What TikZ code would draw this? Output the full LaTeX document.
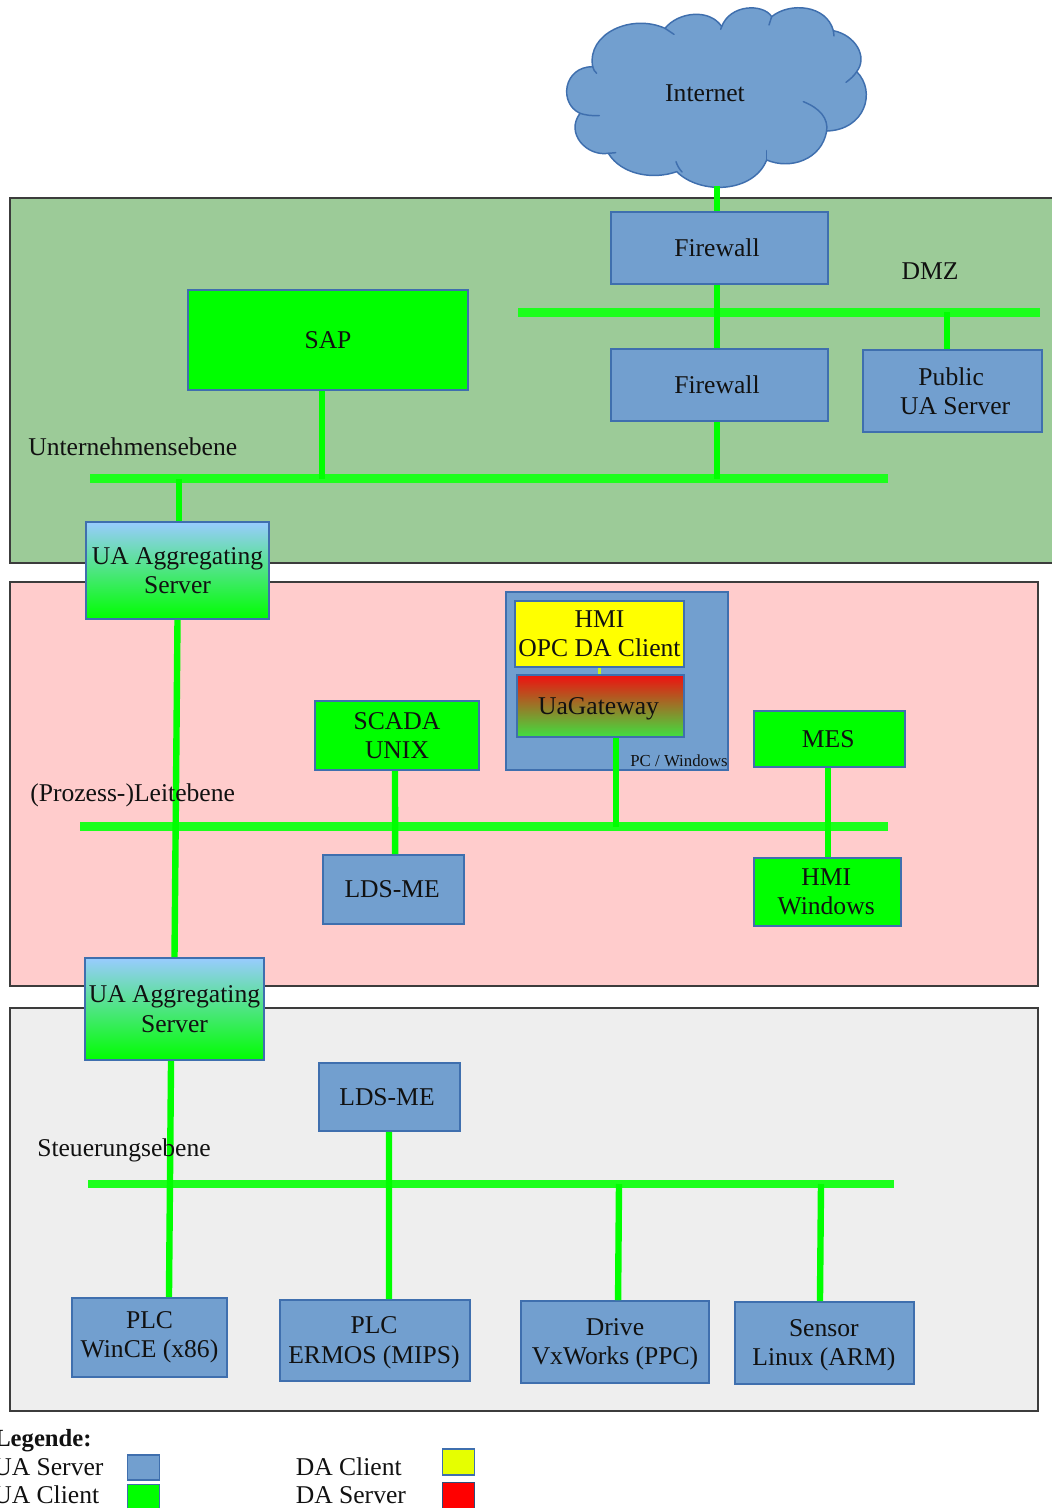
\documentclass[tikz,border=0pt]{standalone}
\usepackage{fontspec}
\setmainfont{Liberation Serif}
\usetikzlibrary{calc}
\definecolor{uablue}{HTML}{729FCF}
\definecolor{edgeblue}{HTML}{3F6FAE}
\definecolor{bandgreen}{HTML}{9CCB98}
\definecolor{bandpink}{HTML}{FFCCCC}
\definecolor{bandgrey}{HTML}{EEEEEE}
\definecolor{bandedge}{HTML}{3C3C3C}
\definecolor{bus}{HTML}{00FF00}
\definecolor{busline}{HTML}{1CFF1C}
\definecolor{inkdark}{HTML}{111111}
\definecolor{aggtop}{HTML}{99CCFF}
\definecolor{gatetop}{HTML}{F01010}
\definecolor{gatebottom}{HTML}{40E040}
\definecolor{swyellow}{HTML}{E6FF00}
\definecolor{hmiyellow}{HTML}{FFFF00}
\definecolor{thinyellow}{HTML}{C8F020}
\tikzset{
  wh/.style 2 args={minimum width=#1*0.75pt, minimum height=#2*0.75pt},
  txt/.style={font=\fontsize{19.2}{22}\selectfont, text=inkdark},
  band/.style={draw=bandedge, line width=1.4pt, inner sep=0pt},
  boxbase/.style={draw=edgeblue, line width=1.4pt, inner sep=0pt, align=center, txt},
  uabox/.style={boxbase, fill=uablue},
  clientbox/.style={boxbase, fill=bus},
  dabox/.style={boxbase, fill=hmiyellow},
  aggbox/.style={boxbase, top color=aggtop, bottom color=bus},
  gatebox/.style={boxbase, top color=gatetop, bottom color=gatebottom},
  link/.style={draw=bus, line width=4.8pt},
  busbar/.style={draw=busline, line width=6.6pt},
  thinlink/.style={draw=thinyellow, line width=2pt},
  lbl/.style={txt, anchor=base west, inner sep=0pt},
  cloudline/.style={draw=edgeblue, line width=1.1pt, line join=round, line cap=round},
  swatch/.style={draw=edgeblue, line width=1.4pt, inner sep=0pt, wh={32}{25}},
}
\begin{document}
\begin{tikzpicture}[x=0.75pt,y=-0.75pt]
\useasboundingbox (0,0) rectangle (1051,1508);
% bands
\node[band, fill=bandgreen, wh={1045}{365}] (zoneU) at (532.5,380.5) {};
\node[band, fill=bandpink, wh={1028}{404}] (zoneP) at (524,784) {};
\node[band, fill=bandgrey, wh={1028}{403}] (zoneS) at (524,1209.5) {};
% cloud
\begin{scope}[shift={(550,0)},x=0.25pt,y=-0.25pt]
\path[fill=uablue, cloudline]
  (128,200) .. controls (110,100) and (245,40) .. (345,85)
  .. controls (385,35) and (480,25) .. (515,80)
  .. controls (540,12) and (640,10) .. (665,50)
  .. controls (720,5) and (830,15) .. (850,92)
  .. controls (915,105) and (955,170) .. (920,215)
  .. controls (980,275) and (945,390) .. (830,393)
  .. controls (815,480) and (720,510) .. (650,480)
  .. controls (610,580) and (450,585) .. (380,515)
  .. controls (310,540) and (215,525) .. (175,460)
  .. controls (110,470) and (45,400) .. (90,340)
  .. controls (25,310) and (40,200) .. (128,200) -- cycle;
\draw[cloudline] (345,85) -- (372,103);
\draw[cloudline] (515,80) -- (512,88);
\draw[cloudline] (665,50) -- (657,75);
\draw[cloudline] (850,92) -- (852,108);
\draw[cloudline] (920,215) .. controls (912,228) and (900,238) .. (888,247);
\draw[cloudline] (760,305) .. controls (810,325) and (835,355) .. (830,393);
\draw[cloudline] (650,452) -- (650,482);
\draw[cloudline] (378,485) .. controls (382,497) and (388,507) .. (396,516);
\draw[cloudline] (197,458) -- (175,460);
\draw[cloudline] (90,340) .. controls (105,345) and (125,348) .. (148,347);
\draw[cloudline] (128,200) .. controls (130,208) and (134,215) .. (140,220);
\end{scope}
\node[txt, inner sep=0pt, wh={290}{178}] (internet) at (717,97) {};
\node[txt, inner sep=0pt] (internetlabel) at (705,93.5) {Internet};
% boxes
\node[uabox, wh={217}{72}] (fw1) at (719.5,248) {\kern-3.75pt Firewall};
\node[uabox, wh={217}{72}] (fw2) at (719.5,385) {\kern-3.75pt Firewall};
\node[uabox, wh={179}{82}] (pub) at (952.5,391) {\kern-2pt Public\\\kern4pt UA Server};
\node[clientbox, wh={280}{100}] (sap) at (328,340) {SAP};
\node[aggbox, wh={183}{97}] (agg1) at (177.5,570.5) {UA Aggregating\\Server};
\node[uabox, wh={222}{178}] (pc) at (617,681) {};
\node[dabox, wh={169}{66}] (hmi) at (599.5,634) {HMI\\OPC DA Client};
\node[gatebox, wh={167}{62}] (gate) at (600.5,706) {\rule{0pt}{17pt}\kern-3pt UaGateway};
\node[clientbox, wh={164}{69}] (scada) at (397,735.5) {SCADA\\UNIX};
\node[clientbox, wh={151}{56}] (mes) at (829.5,739) {\kern-2pt MES};
\node[uabox, wh={141}{69}] (lds1) at (393.5,889.5) {\kern-2pt LDS-ME};
\node[clientbox, wh={147}{68}] (hmiw) at (827.5,892) {\kern-2pt HMI\\\kern-2pt Windows};
\node[aggbox, wh={179}{102}] (agg2) at (174.5,1009) {UA Aggregating\\Server};
\node[uabox, wh={141}{68}] (lds2) at (389.5,1097) {\kern-3.75pt LDS-ME};
\node[uabox, wh={155}{79}] (plc1) at (149.5,1337.5) {PLC\\WinCE (x86)};
\node[uabox, wh={190}{81}] (plc2) at (375,1340.5) {\rule{0pt}{16pt}\kern-1.5pt PLC\\\kern-1.5pt ERMOS (MIPS)};
\node[uabox, wh={188}{82}] (drive) at (615,1342) {\rule{0pt}{16.5pt}Drive\\VxWorks (PPC)};
\node[uabox, wh={179}{82}] (sensor) at (824.5,1343) {\rule{0pt}{16.5pt}\kern-1pt Sensor\\\kern-1pt Linux (ARM)};
% buses
\coordinate (dmzL) at (518,312.5); \coordinate (dmzR) at (1040,312.5);
\coordinate (untL) at (90,478.5);  \coordinate (untR) at (888,478.5);
\coordinate (proL) at (80,826.5);  \coordinate (proR) at (888,826.5);
\coordinate (steL) at (88,1184);   \coordinate (steR) at (894,1184);
\draw[busbar] (dmzL) -- (dmzR);
\draw[busbar] (untL) -- (untR);
\draw[busbar] (proL) -- (proR);
\draw[busbar] (steL) -- (steR);
% junctions on buses
\coordinate (jPub) at (947,312.5);
\coordinate (jFw) at (717,478.5);
\coordinate (jSap) at (322,478.5);
\coordinate (jAgg) at (179,478.5);
\coordinate (jGate) at (616,826.5);
\coordinate (jDrive) at (619,1184);
\coordinate (jSens) at (821,1184);
% links
\draw[link] (internet.south -| fw1.north) ++(-1.9pt,0) -- ([xshift=-1.9pt]fw1.north);
\draw[link] ([xshift=-1.9pt]fw1.south) -- ([xshift=-1.9pt]fw2.north);
\draw[link] (jPub) -- (jPub |- pub.north);
\draw[link] (fw2.south -| jFw) -- (jFw);
\draw[link] (sap.south -| jSap) -- (jSap);
\draw[link] (jAgg) -- (jAgg |- agg1.north);
\draw[link] (agg1.south) -- (agg2.north);
\draw[link] ([xshift=-1.5pt]scada.south) -- ([xshift=1.2pt]lds1.north);
\draw[link] (gate.south -| jGate) -- (jGate);
\draw[link] ([xshift=-1.1pt]mes.south) -- ([xshift=0.4pt]hmiw.north);
\draw[link] ([xshift=-2.6pt]agg2.south) -- ([xshift=14.6pt]plc1.north);
\draw[link] ([xshift=-0.4pt]lds2.south) -- ([xshift=10.5pt]plc2.north);
\draw[link] (jDrive) -- ([xshift=2.3pt]drive.north);
\draw[link] (jSens) -- ([xshift=-3.4pt]sensor.north);
\draw[thinlink] (hmi.south) -- (hmi.south |- gate.north);
% labels
\node[txt, inner sep=0pt] (dmz) at (930,271) {DMZ};
\node[lbl] (lblU) at (28,455) {Unternehmensebene};
\node[lbl] (lblP) at (30,801) {(Prozess-)Leitebene};
\node[lbl] (lblS) at (37,1156) {Steuerungsebene};
\node[txt, inner sep=0pt, anchor=base east, font=\fontsize{12.6}{15}\selectfont] (lblPC) at (728,766) {PC / Windows};
% legend
\node[lbl, font=\fontsize{18.5}{21.5}\selectfont\bfseries] (lgT) at (-6,1446) {Legende:};
\node[lbl] (lg1) at (-7,1475) {UA Server};
\node[lbl] (lg2) at (-7,1503) {UA Client};
\node[lbl] (lg3) at (295.5,1475) {DA Client};
\node[lbl] (lg4) at (295.5,1503) {DA Server};
\node[swatch, fill=uablue] (sw1) at (143.5,1467.5) {};
\node[swatch, fill=bus] (sw2) at (143.5,1497) {};
\node[swatch, fill=swyellow, wh={32}{26}] (sw3) at (458.5,1462) {};
\node[swatch, fill=red, wh={32}{27}, draw=edgeblue!70!black] (sw4) at (458.5,1496) {};
\end{tikzpicture}
\end{document}
